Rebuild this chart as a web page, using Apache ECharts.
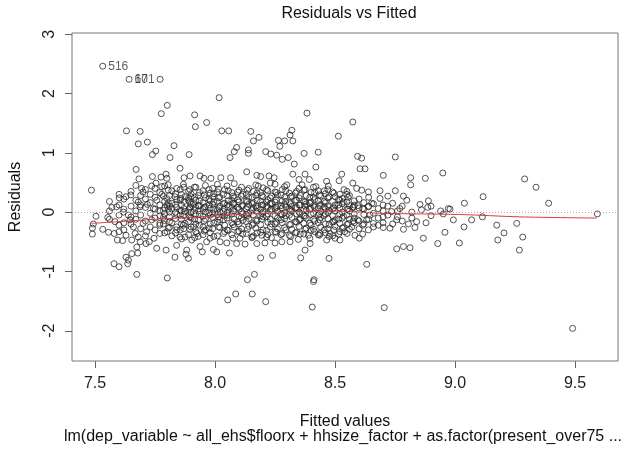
<!DOCTYPE html>
<html><head><meta charset="utf-8">
<script src="https://cdn.jsdelivr.net/npm/echarts@6/dist/echarts.min.js"></script>
<style>html,body{margin:0;padding:0;background:#fff}#c{width:630px;height:449px}</style>
</head><body><div id="c"></div>
<script>
const xTicks = [7.5, 8.0, 8.5, 9.0, 9.5];
const yTicks = [-2, -1, 0, 1, 2, 3];
const labelledPoints = [[7.532, 2.46, '516'], [7.642, 2.24, '67'], [7.771, 2.24, '101']];
const sparsePoints = [
[7.801,1.80],[7.776,1.66],[7.915,1.64],[7.918,1.44],[7.631,1.37],[7.688,1.36],[7.68,1.15],[7.718,1.18],[7.753,1.03],[7.739,0.97],[7.829,1.12],[7.8125,0.92],[7.892,0.97],[7.671,0.72],[7.854,0.74],[7.683,0.56],[7.739,0.60],[7.775,0.59],[7.796,0.64],[7.799,0.57],[7.871,0.58],[7.896,0.61],[7.485,0.37],[7.694,0.40],[7.736,0.44],[7.754,0.49],[7.778,0.43],[7.805,0.46],[7.868,0.47],[7.914,0.42],[7.70,0.34],[7.778,0.30],[7.601,0.24],[7.629,0.26],[7.649,0.29],[7.57,0.08],[7.59,0.09],[7.68,0.17],[7.718,0.13],[7.757,0.20],[7.799,0.23],[7.833,0.26],[7.857,0.23],[7.889,0.20],[7.90,0.26],[7.91,0.14],
[7.618,0.0],[7.504,-0.07],[7.553,-0.09],[7.583,-0.16],[7.493,-0.20],[7.489,-0.27],[7.489,-0.37],[7.532,-0.29],[7.556,-0.34],[7.58,-0.36],[7.60,-0.33],[7.593,-0.47],[7.615,-0.48],[7.629,-0.39],[7.639,-0.05],[7.646,-0.13],[7.66,-0.25],[7.667,-0.36],[7.653,-0.47],[7.68,-0.42],[7.688,-0.50],[7.674,-0.59],[7.653,-0.70],[7.678,-0.69],[7.629,-0.76],[7.639,-0.81],[7.636,-0.87],[7.579,-0.87],[7.60,-0.92],[7.674,-1.05],[7.801,-1.11],[7.7125,-0.53],[7.726,-0.50],[7.757,-0.61],[7.746,-0.44],[7.796,-0.64],[7.833,-0.76],[7.84,-0.56],[7.882,-0.64],[7.889,-0.78],[7.879,-0.71],[7.77,-0.36],[7.80,-0.33],[7.715,-0.33],[7.70,-0.19],[7.736,-0.13],[7.77,-0.19],[7.81,-0.16],[7.84,-0.25],[7.868,-0.22],[7.91,-0.25],[7.924,-0.36],[7.903,-0.47],[7.854,-0.42],[7.6875,0.09],[7.743,0.06],[7.80,0.12],[7.854,0.03],[7.896,0.09],
[8.017,1.93],[7.965,1.51],[8.383,1.67],[8.028,1.37],[8.057,1.37],[8.149,1.36],[8.183,1.26],[8.16,1.20],[8.32,1.38],[8.3125,1.30],[8.264,1.21],[8.29,1.20],[8.324,1.20],[8.27,1.11],[8.09,1.09],[8.08,1.02],[8.0625,0.92],[8.139,1.05],[8.139,0.99],[8.211,1.02],[8.232,0.98],[8.257,0.96],[8.28,0.89],[8.305,0.92],[8.33,0.81],[8.371,0.99],[8.43,1.01],[8.42,0.76],[8.132,0.68],[8.174,0.62],[8.19,0.60],[8.225,0.61],[8.246,0.58],[8.324,0.64],[8.35,0.55],[8.375,0.64],[8.393,0.55],[8.465,0.52],[7.9375,0.61],[7.954,0.57],[7.983,0.57],[8.024,0.58],[8.065,0.58],[8.18,0.44],[8.23,0.49],[8.299,0.46],[8.3625,0.46],[8.42,0.43],
[8.574,1.52],[8.514,1.28],[8.594,0.94],[8.611,0.91],[8.751,0.93],[8.604,0.73],[8.625,0.73],[8.528,0.64],[8.701,0.62],[8.815,0.58],[8.815,0.46],[8.876,0.57],[8.949,0.66],[8.472,0.44],[8.517,0.53],[8.574,0.49],[8.59,0.40],[8.611,0.37],[8.639,0.34],[8.5375,0.38],[8.549,0.30],[8.6875,0.36],[8.751,0.36],[8.72,0.27],[8.785,0.27],[8.799,0.20],[8.854,0.13],[8.889,0.19],[8.886,0.08],[8.972,0.06],[8.6875,0.23],[8.653,0.15],[8.77,0.06],
[8.951,-0.03],[8.993,-0.13],[8.958,-0.34],[8.928,-0.53],[9.018,-0.52],[8.868,-0.44],[8.757,-0.62],[8.785,-0.58],[8.8125,-0.60],[8.475,-0.78],[8.632,-0.88],[8.705,-1.61],[8.84,-0.16],[8.879,-0.18],[8.833,-0.26],[8.785,-0.29],[8.806,-0.20],[8.757,-0.13],[8.729,-0.27],[8.701,-0.26],[8.68,-0.22],[8.66,-0.19],[8.639,-0.30],[8.615,-0.37],[8.601,-0.44],[8.583,-0.39],[8.52,-0.47],[8.5,-0.44],[8.465,-0.47],[8.479,-0.36],[8.57,-0.25],[8.54,-0.33],[8.632,-0.13],[8.646,-0.05],[8.70,-0.08],[8.736,0.01],[8.639,0.09],[8.576,0.09],
[9.29,0.56],[9.3375,0.42],[9.39,0.15],[9.117,0.26],[9.039,0.15],[8.979,0.05],[9.593,-0.03],[9.0375,-0.25],[9.069,-0.13],[9.114,-0.08],[9.174,-0.22],[9.204,-0.35],[9.178,-0.47],[9.257,-0.19],[9.282,-0.42],[9.268,-0.64],[9.49,-1.96],
[8.053,-1.48],[8.086,-1.38],[8.155,-1.38],[8.211,-1.51],[8.135,-1.14],[8.164,-1.05],[8.405,-1.60],[8.4125,-1.14],[8.41,-1.17],[8.375,-0.64],[8.357,-0.77],[8.396,-0.53],[8.19,-0.77],[8.24,-0.73],[8.06,-0.69],[7.947,-0.67],[7.993,-0.63],[8.007,-0.67],[7.9375,-0.58],[7.965,-0.50],[7.979,-0.44],[8.021,-0.50],[8.049,-0.52],[8.09,-0.53],[8.125,-0.54],[8.174,-0.53],[8.208,-0.52],[8.25,-0.52],[8.278,-0.50],[8.3125,-0.50],[8.347,-0.46],[8.104,-0.44],[8.153,-0.43],[8.215,-0.42],[8.389,-0.39],[8.4375,-0.36]
];
const denseFitted = [7.56,7.60,7.62,7.65,7.67,7.69,7.71,7.73,7.75,7.77,7.79,7.81,7.82,7.84,7.86,7.87,7.89,7.90,7.92,7.93,7.95,7.96,7.98,7.99,8.01,8.02,8.04,8.05,8.07,8.08,8.10,8.11,8.13,8.14,8.16,8.17,8.19,8.20,8.22,8.23,8.25,8.26,8.28,8.29,8.31,8.32,8.34,8.35,8.37,8.38,8.40,8.41,8.43,8.44,8.46,8.47,8.49,8.50,8.52,8.53,8.55,8.56,8.58,8.60,8.62,8.64,8.66,8.68,8.70,8.72,8.74,8.76,8.78,8.82,8.86,8.90,8.94];
const denseResid = [
[0.02,-0.12,0.18],[0.12,-0.05,-0.22,0.30],[0.05,-0.18,0.22,-0.30],[0.10,-0.08,0.35,-0.20],[0.02,0.20,-0.12,0.45],[-0.05,0.28,-0.28,0.12],[0.08,-0.15,0.38,-0.40,0.22],[-0.02,0.16,-0.25,0.30],[0.05,-0.10,0.25,-0.30,0.40],[-0.06,0.12,-0.22,0.33,0.02],
[0.07,-0.14,0.18,-0.35,0.44,-0.03],[-0.08,0.10,0.28,-0.26,0.00],[0.15,-0.18,0.36,-0.40,0.05],[-0.04,0.21,-0.30,0.08,0.40],[0.12,-0.12,0.30,-0.20,-0.45,0.02],[-0.06,0.18,-0.28,0.42,0.06],[0.04,-0.16,0.24,-0.38,0.35,-0.05],[0.14,-0.10,0.31,-0.25,0.00],[-0.03,0.20,-0.20,0.42,0.08,-0.33],[0.11,-0.14,0.28,-0.41,0.02],
[-0.07,0.16,-0.25,0.36,0.05,-0.38],[0.09,-0.12,0.24,-0.30,0.45,0.00],[-0.05,0.19,-0.20,0.32,0.07,-0.35],[0.13,-0.09,0.26,-0.28,0.40,-0.02],[-0.04,0.18,-0.17,0.34,0.04,-0.40,0.47],[0.10,-0.13,0.25,-0.26,0.00],[-0.06,0.15,-0.22,0.38,0.06,-0.33],[0.12,-0.10,0.28,-0.30,0.44,-0.01],[-0.03,0.20,-0.18,0.33,0.08,-0.38],[0.14,-0.12,0.24,-0.25,0.02,0.48],
[-0.07,0.17,-0.20,0.37,0.05,-0.32],[0.11,-0.09,0.27,-0.28,0.42,0.00],[-0.04,0.19,-0.16,0.30,0.06,-0.36],[0.13,-0.11,0.25,-0.24,0.40,-0.02],[-0.05,0.16,-0.19,0.35,0.07,-0.40],[0.10,-0.13,0.28,-0.27,0.02,0.46],[-0.06,0.18,-0.21,0.33,0.05,-0.34],[0.12,-0.08,0.26,-0.30,0.41,0.00],[-0.03,0.21,-0.17,0.36,0.08,-0.38],[0.14,-0.12,0.24,-0.25,0.03],
[-0.06,0.17,-0.20,0.34,0.06,-0.33,0.47],[0.11,-0.10,0.29,-0.28,0.01],[-0.04,0.19,-0.18,0.38,0.07,-0.36],[0.13,-0.11,0.25,-0.26,0.43,-0.01],[-0.05,0.16,-0.21,0.32,0.05,-0.39],[0.10,-0.09,0.27,-0.29,0.02],[-0.03,0.20,-0.17,0.35,0.08,-0.34],[0.12,-0.13,0.24,-0.24,0.40,0.00],[-0.06,0.18,-0.19,0.37,0.04,-0.37],[0.14,-0.10,0.28,-0.27,0.03],
[-0.04,0.17,-0.22,0.33,0.06,-0.31],[0.11,-0.12,0.25,-0.29,0.42,-0.02],[-0.05,0.19,-0.18,0.36,0.07,-0.38],[0.13,-0.09,0.27,-0.25,0.01],[-0.03,0.16,-0.20,0.31,0.05,-0.35],[0.10,-0.11,0.24,-0.28,0.38,-0.01],[-0.06,0.18,-0.17,0.34,0.06,-0.40],[0.12,-0.13,0.26,-0.24,0.02],[-0.04,0.20,-0.19,0.30,0.07,-0.33],[0.14,-0.10,0.23,-0.27,0.00],
[-0.05,0.17,-0.21,0.35,0.05,-0.36],[0.11,-0.12,0.28,-0.29,0.02],[-0.03,0.19,-0.18,0.12,-0.10],[0.07,-0.15,0.22,-0.28],[-0.04,0.16,-0.20,0.05],[0.10,-0.12,0.25],[-0.02,0.14,-0.25],[0.06,-0.10],[0.12,-0.18,0.02],[-0.05,0.10],
[0.15,-0.20],[0.02,-0.08],[-0.15,0.10],[0.00,-0.10],[0.04],[-0.06,0.10],[0.02]
];
const coreFitted = [7.785,7.805,7.835,7.855,7.875,7.895,7.915,7.935,7.955,7.975,7.995,8.015,8.035,8.055,8.075,8.095,8.115,8.135,8.155,8.175,8.195,8.215,8.235,8.255,8.275,8.295,8.315,8.335,8.355,8.375,8.395,8.415,8.435,8.455,8.475,8.495,8.515,8.535,8.555,8.575,8.595,8.615];
const coreResid = [
[0.03,-0.20,0.27,-0.09],[0.16,-0.27,0.05,0.37],[-0.11,0.13,-0.35,0.31,0.00],[0.20,-0.05,-0.30,0.38],[0.01,-0.19,0.26,-0.42],[0.17,-0.08,0.38,-0.29,0.07],[-0.12,0.25,0.03,-0.43],[0.19,-0.22,0.33,-0.04,0.11],[-0.15,0.08,0.29,-0.32],[0.22,-0.01,-0.27,0.38,0.12],
[-0.18,0.05,0.31,-0.41,0.17],[0.07,-0.25,0.24,-0.08,0.39],[-0.13,0.14,-0.36,0.30,0.01],[0.19,-0.05,-0.31,0.36,0.09],[-0.21,0.03,0.27,-0.44,0.15],[0.08,-0.16,0.34,-0.33,0.21],[-0.14,0.11,-0.37,0.30,-0.03],[0.18,-0.06,-0.29,0.37,0.09],[-0.22,0.04,0.25,-0.42,0.14],[0.07,-0.15,0.32,-0.35,0.20],
[-0.12,0.12,-0.39,0.28,-0.02],[0.17,-0.07,-0.31,0.38,0.10],[-0.20,0.05,0.27,-0.43,0.15],[0.08,-0.17,0.33,-0.34,0.21],[-0.13,0.11,-0.38,0.29,-0.03],[0.18,-0.06,-0.30,0.36,0.09],[-0.21,0.03,0.26,-0.41,0.14],[0.07,-0.16,0.32,-0.35,0.20],[-0.12,0.12,-0.37,0.28,-0.02],[0.17,-0.07,-0.29,0.38,0.10],
[-0.19,0.05,0.25,-0.44,0.15],[0.08,-0.15,0.33,-0.33,0.21],[-0.13,0.11,-0.39,0.29,-0.03],[0.18,-0.06,-0.30,0.36,0.09],[-0.21,0.03,0.26,-0.41],[0.07,-0.16,0.32,-0.30],[-0.12,0.12,-0.37,0.22],[0.17,-0.07,-0.26],[-0.19,0.05,0.25],[0.08,-0.15],
[-0.13,0.11],[0.06,-0.22]
];
const lowessX = [7.485, 7.60, 7.75, 7.94, 8.19, 8.48, 8.69, 9.02, 9.27, 9.59];
const lowessY = [-0.19, -0.16, -0.12, -0.08, -0.02, 0.02, -0.02, -0.04, -0.08, -0.10];

const allPoints = sparsePoints.slice();
denseFitted.forEach((x, i) => denseResid[i].forEach(y => allPoints.push([x, y])));
coreFitted.forEach((x, i) => coreResid[i].forEach(y => allPoints.push([x, y])));

const font = 'Liberation Sans, Arial, sans-serif';
const ptStyle = { color: 'rgba(0,0,0,0)', borderColor: '#2a2a2a', borderWidth: 1 };
const chart = echarts.init(document.getElementById('c'), null, { renderer: 'canvas' });
chart.setOption({
  animation: false,
  backgroundColor: '#fff',
  title: [
    { text: 'Residuals vs Fitted', left: 344, top: 1, textAlign: 'center',
      textStyle: { fontFamily: font, fontSize: 16, fontWeight: 'normal', color: '#111' } },
    { text: 'lm(dep_variable ~ all_ehs$floorx + hhsize_factor + as.factor(present_over75 ...', left: 338, top: 424, textAlign: 'center',
      textStyle: { fontFamily: font, fontSize: 16, fontWeight: 'normal', color: '#111' } }
  ],
  grid: { left: 71, right: 12, top: 33, bottom: 88, show: true, borderColor: '#777', borderWidth: 1 },
  xAxis: {
    type: 'value', min: 7.404, max: 9.679,
    name: 'Fitted values', nameLocation: 'middle', nameGap: 53,
    nameTextStyle: { fontFamily: font, fontSize: 16, color: '#111' },
    axisLine: { show: false, onZero: false },
    axisTick: { show: true, length: 7, customValues: xTicks, lineStyle: { color: '#666' } },
    axisLabel: { customValues: xTicks, margin: 15, fontFamily: font, fontSize: 16, color: '#222',
      formatter: v => v.toFixed(1) },
    splitLine: { show: false }
  },
  yAxis: {
    type: 'value', min: -2.51, max: 3.02,
    name: 'Residuals', nameLocation: 'middle', nameGap: 48, nameRotate: 90,
    nameTextStyle: { fontFamily: font, fontSize: 16, color: '#111' },
    axisLine: { show: false, onZero: false },
    axisTick: { show: true, length: 7, customValues: yTicks, lineStyle: { color: '#666' } },
    axisLabel: { customValues: yTicks, rotate: 90, margin: 14, fontFamily: font, fontSize: 16, color: '#222',
      formatter: v => String(v) },
    splitLine: { show: false }
  },
  series: [
    { type: 'scatter', data: allPoints, symbol: 'circle', symbolSize: 6, itemStyle: ptStyle, silent: true,
      markLine: { silent: true, symbol: 'none', label: { show: false },
        lineStyle: { color: '#aaa', type: [1, 2], width: 1 }, data: [{ yAxis: 0 }] } },
    { type: 'scatter', symbol: 'circle', symbolSize: 6, itemStyle: ptStyle,
      data: labelledPoints.filter(p => p[2] !== '101').map(p => ({ value: [p[0], p[1]], name: p[2] })),
      label: { show: true, position: 'right', distance: 2, formatter: '{b}', fontFamily: font, fontSize: 12, color: '#333' } },
    { type: 'scatter', symbol: 'circle', symbolSize: 6, itemStyle: ptStyle,
      data: labelledPoints.filter(p => p[2] === '101').map(p => ({ value: [p[0], p[1]], name: p[2] })),
      label: { show: true, position: 'left', distance: 2, formatter: '{b}', fontFamily: font, fontSize: 12, color: '#333' } },
    { type: 'line', data: lowessX.map((x, i) => [x, lowessY[i]]), showSymbol: false, smooth: 0.3,
      lineStyle: { color: '#dd3b3b', width: 1 }, silent: true }
  ]
});
</script></body></html>
